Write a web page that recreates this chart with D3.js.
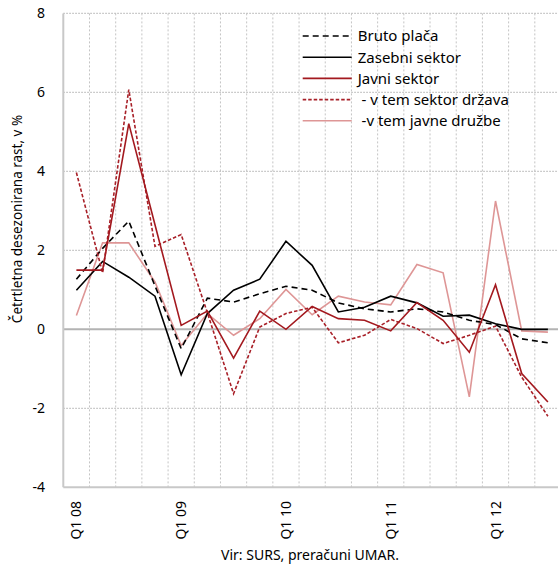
<!DOCTYPE html>
<html>
<head>
<meta charset="utf-8">
<script src="https://cdn.jsdelivr.net/npm/d3@7"></script>
<style>
    body { margin: 0; background: #fff; }
    svg { display: block; }
</style>
</head>
<body>
<div id="chartContainer"></div>
<script>
var quarters = ['Q1 08', 'Q2 08', 'Q3 08', 'Q4 08', 'Q1 09', 'Q2 09', 'Q3 09', 'Q4 09', 'Q1 10', 'Q2 10',
    'Q3 10', 'Q4 10', 'Q1 11', 'Q2 11', 'Q3 11', 'Q4 11', 'Q1 12', 'Q2 12', 'Q3 12'];
var tickQuarters = ['Q1 08', 'Q1 09', 'Q1 10', 'Q1 11', 'Q1 12'];
var yTicks = [-4, -2, 0, 2, 4, 6, 8];

var brutoPlaca = [1.27, 2.05, 2.74, 1.1, -0.49, 0.79, 0.69, 0.9, 1.09, 0.99, 0.67, 0.52, 0.44, 0.52, 0.44, 0.23, 0.12, -0.24, -0.34];
var zasebniSektor = [0.99, 1.72, 1.32, 0.84, -1.15, 0.4, 0.99, 1.27, 2.23, 1.62, 0.44, 0.56, 0.84, 0.67, 0.33, 0.36, 0.14, 0.0, 0.0];
var javniSektor = [1.5, 1.5, 5.21, 2.65, 0.1, 0.46, -0.73, 0.46, 0.0, 0.58, 0.27, 0.23, -0.04, 0.68, 0.23, -0.58, 1.13, -1.12, -1.84];
var sektorDrzava = [3.97, 1.43, 6.07, 2.1, 2.4, 0.42, -1.63, 0.06, 0.4, 0.56, -0.34, -0.15, 0.25, 0.02, -0.36, -0.15, 0.08, -1.21, -2.2];
var javneDruzbe = [0.35, 2.19, 2.19, 1.2, -0.41, 0.4, -0.15, 0.27, 1.01, 0.37, 0.84, 0.69, 0.62, 1.64, 1.43, -1.71, 3.25, -0.04, -0.07];

var seriesNames = ['Bruto plača', 'Zasebni sektor', 'Javni sektor', ' - v tem sektor država', ' -v tem javne družbe'];
var seriesValues = [brutoPlaca, zasebniSektor, javniSektor, sektorDrzava, javneDruzbe];
var seriesColors = ['#000000', '#000000', '#a3191f', '#a82028', '#de9696'];
var seriesDashes = ['6,4', null, null, '3.5,2', null];

var width = 558;
var height = 566;
var font = '"Noto Sans", sans-serif';

var plotLeft = 63.3;
var plotRight = 561;
var plotTop = 13.4;
var plotBottom = 487.3;

var gridColor = '#bdbdbd';

var svg = d3.select('#chartContainer').append('svg')
    .attr('width', width)
    .attr('height', height);

var x = d3.scaleBand().domain(quarters).range([plotLeft, plotRight]);
var y = d3.scaleLinear().domain([-4, 8]).range([plotBottom, plotTop]);

function xCenter(q) {
    return x(q) + x.bandwidth() / 2;
}

// vertical dotted grid between quarters
svg.append('g').selectAll('line')
    .data(quarters.slice(1))
    .enter().append('line')
    .attr('x1', function (q) { return x(q); })
    .attr('x2', function (q) { return x(q); })
    .attr('y1', plotTop)
    .attr('y2', plotBottom)
    .attr('stroke', '#c4c4c4')
    .attr('stroke-width', 1)
    .attr('stroke-dasharray', '2,2');

// horizontal dotted grid
svg.append('g').selectAll('line')
    .data(yTicks.filter(function (d) { return d !== 0 && d !== -4; }))
    .enter().append('line')
    .attr('x1', plotLeft)
    .attr('x2', plotRight)
    .attr('y1', function (d) { return y(d); })
    .attr('y2', function (d) { return y(d); })
    .attr('stroke', gridColor)
    .attr('stroke-width', 1.2)
    .attr('stroke-dasharray', '1.5,1.5');

// zero line and axis frame
svg.append('line')
    .attr('x1', plotLeft).attr('x2', plotRight)
    .attr('y1', y(0)).attr('y2', y(0))
    .attr('stroke', '#b3b3b3')
    .attr('stroke-width', 2);

svg.append('line')
    .attr('x1', plotLeft).attr('x2', plotRight)
    .attr('y1', y(-4)).attr('y2', y(-4))
    .attr('stroke', '#c8c8c8')
    .attr('stroke-width', 2);

svg.append('line')
    .attr('x1', plotLeft).attr('x2', plotLeft)
    .attr('y1', plotTop).attr('y2', plotBottom)
    .attr('stroke', '#c8c8c8')
    .attr('stroke-width', 2);

// y tick labels
svg.append('g').selectAll('text')
    .data(yTicks)
    .enter().append('text')
    .attr('x', 45)
    .attr('y', function (d) { return y(d); })
    .attr('dy', '0.36em')
    .attr('text-anchor', 'end')
    .attr('font-family', font)
    .attr('font-size', '14px')
    .attr('fill', '#000')
    .text(function (d) { return d; });

// x tick labels, rotated
svg.append('g').selectAll('text')
    .data(tickQuarters)
    .enter().append('text')
    .attr('transform', function (q) { return 'translate(' + xCenter(q) + ',501) rotate(-90)'; })
    .attr('dy', '0.36em')
    .attr('text-anchor', 'end')
    .attr('font-family', font)
    .attr('font-size', '14px')
    .attr('fill', '#000')
    .text(function (q) { return q; });

// y axis title
svg.append('text')
    .attr('transform', 'translate(22,219) rotate(-90)')
    .attr('text-anchor', 'middle')
    .attr('font-family', font)
    .attr('font-size', '13.5px')
    .attr('fill', '#000')
    .text('Četrtletna desezonirana rast, v %');

// source
svg.append('text')
    .attr('x', 310)
    .attr('y', 560)
    .attr('text-anchor', 'middle')
    .attr('font-family', font)
    .attr('font-size', '14px')
    .attr('fill', '#000')
    .text('Vir: SURS, preračuni UMAR.');

// series lines
var line = d3.line()
    .x(function (d, i) { return xCenter(quarters[i]); })
    .y(function (d) { return y(d); });

var drawOrder = [4, 0, 1, 3, 2];
drawOrder.forEach(function (s) {
    svg.append('path')
        .datum(seriesValues[s])
        .attr('d', line)
        .attr('fill', 'none')
        .attr('stroke', seriesColors[s])
        .attr('stroke-width', 1.6)
        .attr('stroke-dasharray', seriesDashes[s]);
});

// legend
var legendX = 302.7;
var legendY = 36;
var legendStep = 21.2;

var legend = svg.append('g').selectAll('g')
    .data(seriesNames)
    .enter().append('g')
    .attr('transform', function (d, i) { return 'translate(' + legendX + ',' + (legendY + i * legendStep) + ')'; });

legend.append('line')
    .attr('x1', 0).attr('x2', 49)
    .attr('y1', 0).attr('y2', 0)
    .attr('stroke', function (d, i) { return seriesColors[i]; })
    .attr('stroke-width', 1.6)
    .attr('stroke-dasharray', function (d, i) { return seriesDashes[i]; });

legend.append('text')
    .attr('x', 55)
    .attr('y', 0)
    .attr('dy', '0.36em')
    .attr('font-family', font)
    .attr('font-size', '15px')
    .attr('fill', '#000')
    .attr('xml:space', 'preserve')
    .style('white-space', 'pre')
    .text(function (d) { return d; });
</script>
</body>
</html>
